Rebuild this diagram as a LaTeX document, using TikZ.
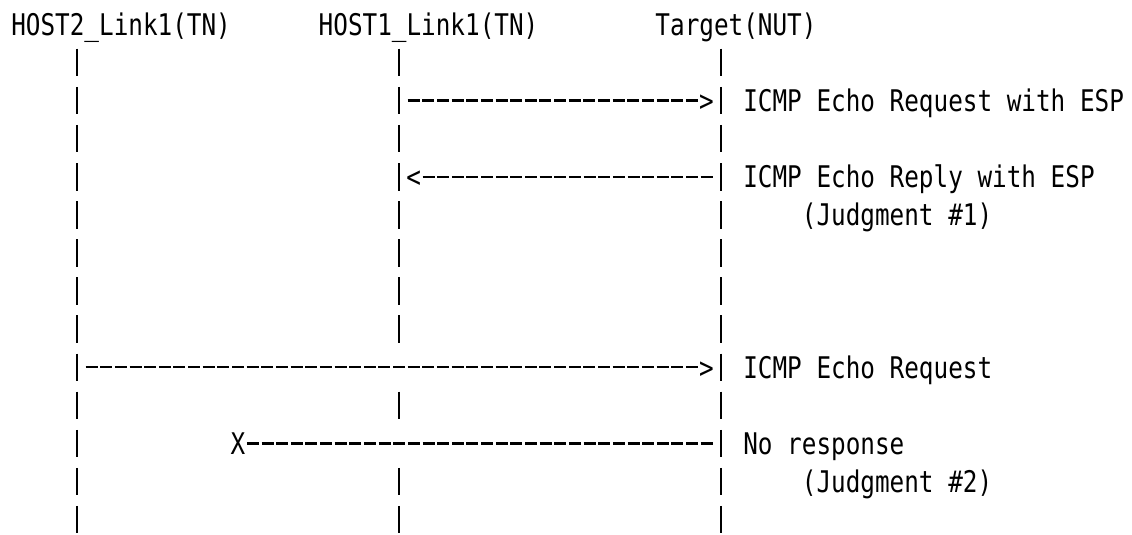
\documentclass[tikz,border=0pt]{standalone}
\usepackage{fontspec}
\newfontfamily\asciifont[FakeStretch=0.816]{DejaVu Sans Mono}
\newcommand{\seqfont}{\asciifont\fontsize{29.8pt}{38.1pt}\selectfont}

\begin{document}
\begin{tikzpicture}[
	x=14.64pt, y=-38.1pt,
	mono/.style={font=\seqfont, inner sep=0pt, text height=21.72pt, text depth=0pt},
	label node/.style={mono, anchor=west},
	glyph/.style={mono, anchor=center},
	lifeline/.style={line width=2.6pt, dash pattern=on 27.5pt off 10.6pt},
	msg/.style={line width=2.2pt, dash pattern=on 12pt off 2.64pt,
		shorten <=1.32pt, shorten >=1.32pt},
	from bar/.style={shorten <=8.64pt},
	to bar/.style={shorten >=8.64pt}
	]
	\useasboundingbox (-0.758,-0.6404) rectangle (76.563,13.3753);

	\node[label node] (hosttwo) at (0,0) {HOST2\_Link1(TN)};
	\node[label node] (hostone) at (21,0) {HOST1\_Link1(TN)};
	\node[label node] (target) at (44,0) {Target(NUT)};

	\coordinate (h2top) at (4.5,0.639);
	\coordinate (h1top) at (26.5,0.639);
	\coordinate (tgtop) at (48.5,0.639);

	% HOST1 line is broken where the lower messages cross it
	\draw[lifeline] (h2top) -- ++(0,12.722);
	\draw[lifeline] (h1top) -- ++(0,7.722) ++(0,1.278) -- ++(0,0.722) ++(0,1.278) -- ++(0,1.722);
	\draw[lifeline] (tgtop) -- ++(0,12.722);

	\node[glyph] (reqtip) at (47.5,2) {>};
	\draw[msg, from bar] (h1top |- reqtip) -- (reqtip.west);
	\node[label node] (espreq) at (50,2) {ICMP Echo Request with ESP};

	\node[glyph] (reptip) at (27.5,4) {<};
	\draw[msg, to bar] (reptip.east) -- (tgtop |- reptip);
	\node[label node] (esprep) at (50,4) {ICMP Echo Reply with ESP};
	\node[label node] (judgeone) at (54,5) {(Judgment \#1)};

	\node[glyph] (plaintip) at (47.5,9) {>};
	\draw[msg, from bar] (h2top |- plaintip) -- (plaintip.west);
	\node[label node] (plainreq) at (50,9) {ICMP Echo Request};

	\node[glyph] (lost) at (15.5,11) {X};
	\draw[msg, to bar] (lost.east) -- (tgtop |- lost);
	\node[label node] (noreply) at (50,11) {No response};
	\node[label node] (judgetwo) at (54,12) {(Judgment \#2)};

\end{tikzpicture}
\end{document}
